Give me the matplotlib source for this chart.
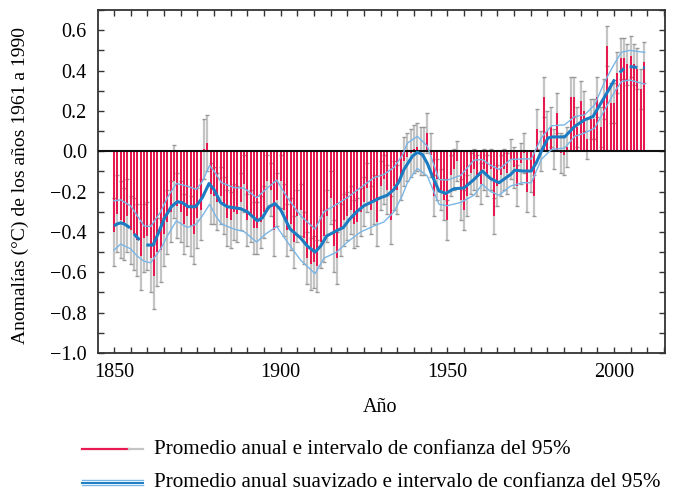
import numpy as np
import matplotlib
matplotlib.use("Agg")
import matplotlib.pyplot as plt
from matplotlib.lines import Line2D
from matplotlib.ticker import MultipleLocator, FuncFormatter

# --- Data ---
years = np.arange(1850, 2010)

anomaly = [
    -0.40, -0.31, -0.34, -0.36, -0.32, -0.39, -0.41, -0.44, -0.52, -0.43,   # 1850s
    -0.42, -0.53, -0.62, -0.50, -0.49, -0.41, -0.35, -0.30, -0.15, -0.27,   # 1860s
    -0.30, -0.36, -0.32, -0.37, -0.41, -0.33, -0.29, 0.01, 0.04, -0.21,     # 1870s
    -0.22, -0.25, -0.22, -0.27, -0.33, -0.34, -0.30, -0.31, -0.25, -0.16,   # 1880s
    -0.34, -0.32, -0.38, -0.38, -0.35, -0.30, -0.15, -0.19, -0.39, -0.24,   # 1890s
    -0.15, -0.29, -0.39, -0.36, -0.45, -0.32, -0.29, -0.43, -0.53, -0.56,   # 1900s
    -0.55, -0.57, -0.45, -0.42, -0.32, -0.23, -0.47, -0.53, -0.39, -0.34,   # 1910s
    -0.32, -0.29, -0.36, -0.35, -0.30, -0.25, -0.18, -0.29, -0.24, -0.35,   # 1920s
    -0.17, -0.14, -0.19, -0.34, -0.17, -0.19, -0.12, -0.05, -0.03, -0.01,   # 1930s
    0.01, 0.02, 0.00, 0.00, 0.09, -0.02, -0.22, -0.14, -0.19, -0.24,        # 1940s
    -0.34, -0.12, -0.09, -0.05, -0.24, -0.29, -0.22, -0.11, -0.09, -0.12,   # 1950s
    -0.16, -0.09, -0.12, -0.09, -0.32, -0.17, -0.12, -0.09, -0.11, -0.04,   # 1960s
    -0.08, -0.17, -0.06, -0.01, -0.20, -0.10, -0.22, 0.11, 0.00, 0.27,      # 1970s
    0.10, 0.12, 0.01, 0.19, -0.01, -0.02, 0.02, 0.27, 0.27, 0.12,           # 1980s
    0.25, 0.20, 0.06, 0.16, 0.16, 0.27, 0.12, 0.26, 0.52, 0.24,             # 1990s
    0.24, 0.39, 0.46, 0.46, 0.43, 0.47, 0.43, 0.41, 0.31, 0.44,             # 2000s
]

# half width of the 95% interval of each annual value
error = [
    0.17, 0.19, 0.19, 0.18, 0.18, 0.17, 0.18, 0.18, 0.17, 0.17,
    0.17, 0.17, 0.16, 0.17, 0.16, 0.16, 0.16, 0.15, 0.18, 0.16,
    0.15, 0.15, 0.15, 0.15, 0.15, 0.15, 0.15, 0.15, 0.14, 0.15,
    0.14, 0.14, 0.14, 0.14, 0.14, 0.14, 0.14, 0.14, 0.14, 0.14,
    0.13, 0.13, 0.13, 0.13, 0.13, 0.13, 0.13, 0.13, 0.13, 0.13,
    0.13, 0.13, 0.13, 0.13, 0.13, 0.13, 0.13, 0.13, 0.13, 0.13,
    0.13, 0.13, 0.13, 0.13, 0.13, 0.13, 0.13, 0.13, 0.13, 0.13,
    0.12, 0.12, 0.12, 0.12, 0.12, 0.12, 0.12, 0.12, 0.12, 0.12,
    0.12, 0.12, 0.12, 0.12, 0.12, 0.12, 0.12, 0.12, 0.12, 0.12,
    0.12, 0.12, 0.12, 0.12, 0.10, 0.11, 0.10, 0.10, 0.10, 0.10,
    0.10, 0.10, 0.10, 0.10, 0.10, 0.10, 0.10, 0.10, 0.10, 0.10,
    0.10, 0.10, 0.10, 0.10, 0.09, 0.10, 0.10, 0.10, 0.10, 0.10,
    0.10, 0.10, 0.10, 0.10, 0.10, 0.10, 0.10, 0.10, 0.10, 0.10,
    0.10, 0.10, 0.10, 0.10, 0.10, 0.10, 0.10, 0.10, 0.10, 0.10,
    0.10, 0.10, 0.10, 0.10, 0.10, 0.10, 0.10, 0.10, 0.10, 0.10,
    0.10, 0.10, 0.10, 0.10, 0.10, 0.10, 0.10, 0.10, 0.10, 0.10,
]

# smoothed series (nan = gap in the drawn line)
smooth_years = [
    1850.0, 1851.0, 1852.0, 1853.0, 1854.0, 1854.8, np.nan,
    1856.0, 1857.7, np.nan,
    1859.7, 1861.7, 1863.2, 1865.2, 1867.2, 1869.0, 1870.5, 1872.2, 1874.5,
    1876.5, 1878.5, 1880.0, 1882.0, 1884.0, 1886.0, 1888.0, 1890.0, 1892.0,
    1893.0, 1894.5, 1896.5, 1898.3, 1900.0, 1902.8, 1905.8, 1908.0, 1910.3,
    1912.0, 1913.8, 1916.8, 1918.8, 1920.5, 1922.8, 1925.0, 1928.0, 1930.0,
    1932.0, 1934.0, 1935.5, 1937.0, 1939.5, 1941.0, 1942.5, 1944.0, 1945.5,
    1947.5, 1949.5, 1952.0, 1955.0, 1958.0, 1960.5, 1963.0, 1965.5, 1969.0,
    1970.2, 1972.7, 1975.2, 1976.7, 1978.2, 1980.2, 1981.7, 1985.2, 1988.2,
    1991.2, 1993.7, 1997.2, 2000.2, np.nan,
    2001.7, 2003.0, np.nan,
    2004.7, 2007.0, np.nan,
    2008.7, 2009.2,
]
smooth_vals = [
    -0.370, -0.360, -0.355, -0.360, -0.370, -0.380, np.nan,
    -0.410, -0.440, np.nan,
    -0.465, -0.465, -0.410, -0.330, -0.275, -0.250, -0.255, -0.275, -0.275,
    -0.230, -0.160, -0.190, -0.255, -0.275, -0.280, -0.285, -0.300, -0.330,
    -0.345, -0.330, -0.275, -0.260, -0.290, -0.385, -0.427, -0.470, -0.500,
    -0.470, -0.420, -0.394, -0.378, -0.340, -0.300, -0.270, -0.246, -0.230,
    -0.218, -0.189, -0.150, -0.090, -0.025, -0.005, -0.016, -0.060, -0.123,
    -0.197, -0.209, -0.186, -0.182, -0.140, -0.098, -0.136, -0.156, -0.115,
    -0.094, -0.098, -0.098, -0.057, 0.000, 0.066, 0.071, 0.071, 0.123,
    0.156, 0.172, 0.270, 0.356, np.nan,
    0.390, 0.410, np.nan,
    0.420, 0.415, np.nan,
    0.414, 0.414,
]

# 95% interval of the smoothed series
band_years = [
    1850, 1852, 1855, 1857, 1859, 1861, 1864, 1866, 1868.7, 1872, 1874.7,
    1876.5, 1878.7, 1880.5, 1882.2, 1886, 1889, 1892.8, 1895.5, 1898.8,
    1902, 1906, 1910.3, 1913, 1916.8, 1920, 1924, 1928, 1931, 1934, 1936.5,
    1938, 1941, 1944, 1947.5, 1950, 1954, 1958, 1960.5, 1963, 1965.5, 1969,
    1972.7, 1975.2, 1978.2, 1981.2, 1985.2, 1988.2, 1991.2, 1994.2, 1997.2,
    2000, 2002.2, 2004.7, 2009.2,
]
band_upper = [
    -0.246, -0.241, -0.271, -0.320, -0.370, -0.373, -0.300, -0.230, -0.160,
    -0.173, -0.189, -0.150, -0.070, -0.110, -0.156, -0.180, -0.183, -0.230,
    -0.190, -0.143, -0.230, -0.320, -0.386, -0.300, -0.263, -0.230, -0.180,
    -0.131, -0.115, -0.080, -0.020, 0.040, 0.074, 0.025, -0.140, -0.143,
    -0.120, -0.044, -0.041, -0.070, -0.090, -0.041, -0.038, -0.038, 0.066,
    0.126, 0.131, 0.172, 0.180, 0.230, 0.345, 0.430, 0.490, 0.500, 0.490,
]
band_lower = [
    -0.490, -0.460, -0.484, -0.520, -0.545, -0.553, -0.484, -0.420, -0.345,
    -0.378, -0.361, -0.320, -0.263, -0.320, -0.360, -0.386, -0.398, -0.450,
    -0.410, -0.373, -0.450, -0.540, -0.607, -0.530, -0.500, -0.450, -0.400,
    -0.370, -0.350, -0.300, -0.220, -0.156, -0.085, -0.123, -0.263, -0.270,
    -0.254, -0.218, -0.164, -0.200, -0.218, -0.172, -0.156, -0.156, -0.040,
    0.008, 0.016, 0.074, 0.090, 0.115, 0.205, 0.290, 0.345, 0.353, 0.333,
]

legend_labels = [
    "Promedio anual e intervalo de confianza del 95%",
    "Promedio anual suavizado e intervalo de confianza del 95%",
]

# --- Style ---
plt.rcParams["font.family"] = ["Liberation Serif", "DejaVu Serif"]
plt.rcParams["font.size"] = 14.5

RED = "#e8194f"
GREY = "#c4c4c4"
CAP = "#999999"
DARK_BLUE = "#1b7cc3"
LIGHT_BLUE = "#7ab6e6"
SPINE = "#333333"

W, H = 677, 493
fig = plt.figure(figsize=(W / 100, H / 100), dpi=100)
ax = fig.add_axes([98 / W, 1 - 353 / H, (665 - 98) / W, (353 - 10) / H])

anomaly = np.array(anomaly)
error = np.array(error)

# error bars behind the annual bars
ax.vlines(years, anomaly - error, anomaly + error, color=GREY, lw=1.6, zorder=1)
ax.plot(years, anomaly + error, "_", color=CAP, ms=2.5, mew=1.0, zorder=1)
ax.plot(years, anomaly - error, "_", color=CAP, ms=2.5, mew=1.0, zorder=1)
ax.bar(years, anomaly, width=0.66, color=RED, linewidth=0, zorder=2)

ax.axhline(0, color="#111111", lw=1.5, zorder=3)

ax.plot(band_years, band_upper, color=LIGHT_BLUE, lw=1.0, zorder=4)
ax.plot(band_years, band_lower, color=LIGHT_BLUE, lw=1.0, zorder=4)
ax.plot(smooth_years, smooth_vals, color=DARK_BLUE, lw=2.2, zorder=5,
        solid_capstyle="butt")

ax.set_xlim(1845.2, 2015.3)
ax.set_ylim(-1.0, 0.70)
ax.xaxis.set_major_locator(MultipleLocator(50))
ax.xaxis.set_minor_locator(MultipleLocator(5))
ax.yaxis.set_major_locator(MultipleLocator(0.2))
ax.yaxis.set_minor_locator(MultipleLocator(0.1))
ax.yaxis.set_major_formatter(FuncFormatter(lambda v, p: f"{v:.1f}".replace("-", "\u2212")))
ax.tick_params(which="both", direction="in", top=True, right=True,
               length=4.5, width=1.0, color=SPINE, labelsize=14.5)
ax.tick_params(axis="x", pad=7)
ax.tick_params(axis="y", pad=8)
for s in ax.spines.values():
    s.set_color(SPINE)
    s.set_linewidth(1.3)

fig.text(20 / W, 1 - 185 / H, "Anomalías (°C) de los años 1961 a 1990",
         rotation=90, ha="center", va="center", fontsize=14)
fig.text(380 / W, 1 - 408 / H, "Año", ha="center", va="center", fontsize=14.5)

# --- Legend drawn by hand ---
y1 = 1 - 449 / H
y2 = 1 - 482.5 / H
fig.add_artist(Line2D([82 / W, 129 / W], [y1, y1], color=RED, lw=1.6))
fig.add_artist(Line2D([129 / W, 143 / W], [y1, y1], color=GREY, lw=1.6))
for dy, c, lw in [(-2.7, LIGHT_BLUE, 1.0), (0, DARK_BLUE, 1.4), (2.7, LIGHT_BLUE, 1.0)]:
    yy = y2 + dy / H
    fig.add_artist(Line2D([82 / W, 143 / W], [yy, yy], color=c, lw=lw))
fig.text(154 / W, y1, legend_labels[0], ha="left", va="center", fontsize=15.2)
fig.text(154 / W, y2, legend_labels[1], ha="left", va="center", fontsize=15.2)

fig.savefig("out.png", dpi=100)
